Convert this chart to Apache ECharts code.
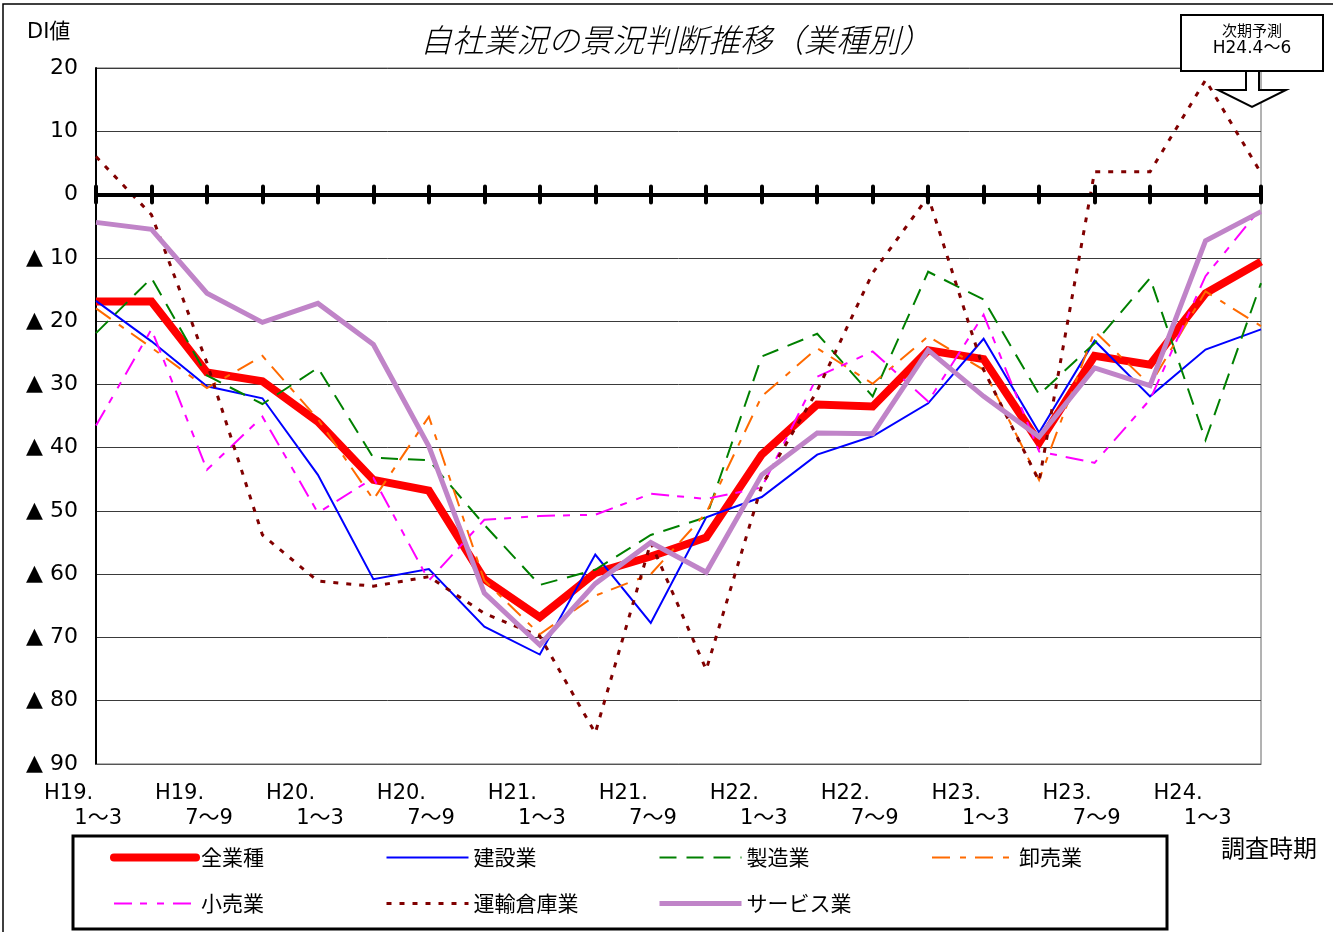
<!DOCTYPE html>
<html>
<head>
<meta charset="utf-8">
<script src="https://cdn.jsdelivr.net/npm/echarts@6/dist/echarts.min.js"></script>
<style>
html,body{margin:0;padding:0;background:#fff;}
#c{width:1333px;height:932px;}
</style>
</head>
<body>
<div id="c"></div>
<script>
const categories = ['H19.1～3','H19.4～6','H19.7～9','H19.10～12','H20.1～3','H20.4～6','H20.7～9','H20.10～12',
  'H21.1～3','H21.4～6','H21.7～9','H21.10～12','H22.1～3','H22.4～6','H22.7～9','H22.10～12',
  'H23.1～3','H23.4～6','H23.7～9','H23.10～12','H24.1～3','H24.4～6'];

const allIndustries = [-16.9,-16.9,-28.1,-29.5,-35.9,-45.1,-46.8,-60.8,-66.8,-59.8,-57.2,-54.2,-41.1,-33.2,-33.5,-24.6,-26.0,-39.2,-25.5,-26.9,-15.6,-10.6];
const construction  = [-16.8,-23.2,-30.3,-32.2,-44.3,-60.8,-59.2,-68.3,-72.7,-56.9,-67.7,-51.0,-47.8,-41.1,-38.2,-33.0,-22.8,-37.6,-23.1,-31.9,-24.5,-21.3];
const manufacturing = [-21.9,-13.2,-28.6,-33.1,-27.4,-41.6,-42.0,-52.2,-61.7,-59.3,-53.8,-51.0,-25.6,-22.0,-31.9,-12.2,-16.6,-31.6,-23.5,-13.2,-38.8,-14.0];
const wholesale     = [-18.0,-24.2,-30.6,-25.5,-35.5,-48.2,-35.1,-61.0,-69.5,-63.4,-60.0,-50.3,-31.9,-24.3,-29.9,-22.4,-27.7,-45.1,-21.6,-30.1,-15.3,-20.8];
const retail        = [-36.5,-21.3,-43.5,-35.1,-50.3,-44.8,-61.0,-51.4,-50.8,-50.6,-47.3,-48.1,-46.3,-28.8,-24.8,-32.7,-19.0,-40.6,-42.4,-32.4,-12.9,-2.1];
const transport     = [6.0,-3.2,-26.6,-53.8,-61.1,-61.9,-60.4,-66.2,-69.8,-85.1,-55.0,-75.1,-46.0,-31.0,-12.4,-0.3,-27.7,-45.3,3.6,3.6,18.1,3.4];
const services      = [-4.4,-5.5,-15.6,-20.2,-17.2,-23.7,-39.8,-63.0,-71.2,-61.5,-55.0,-59.7,-44.3,-37.7,-37.8,-24.6,-31.9,-38.3,-27.4,-30.2,-7.3,-2.7];

const yTicks = {min:-90, max:20, interval:10};

const FONT = '"Noto Sans CJK JP", "Noto Sans", sans-serif';
const NUMFONT = '"DejaVu Sans", "Noto Sans CJK JP", sans-serif';
const chart = echarts.init(document.getElementById('c'), null, {renderer:'canvas'});

function line(name, data, color, width, type, z){
  return {name, type:'line', data, symbol:'none', showSymbol:false, z: z,
    lineStyle:{color, width, type, join:'miter', cap:'butt'}, itemStyle:{color},
    emphasis:{disabled:true}, animation:false};
}

const legendBase = {orient:'vertical', top:847, padding:0, itemWidth:82, itemHeight:14, itemGap:25,
  itemStyle:{opacity:0}, lineStyle:{width:'inherit'},
  textStyle:{fontSize:21, lineHeight:20, color:'#000', fontFamily:FONT}, selectedMode:false};

const option = {
  animation:false,
  textStyle:{fontFamily:FONT},
  title:{text:'自社業況の景況判断推移（業種別）', left:671, top:19, textAlign:'center',
    textStyle:{fontSize:32, fontStyle:'italic', fontWeight:300, color:'#000', fontFamily:FONT}},
  grid:{left:96, right:72, top:68, bottom:168, show:true, borderColor:'#666', borderWidth:1},
  legend:[
    Object.assign({}, legendBase, {left:110, data:[{name:'全業種', lineStyle:{cap:'round'}},'小売業']}),
    Object.assign({}, legendBase, {left:385, data:['建設業','運輸倉庫業']}),
    Object.assign({}, legendBase, {left:657, data:['製造業','サービス業']}),
    Object.assign({}, legendBase, {left:931, data:['卸売業']})
  ],
  xAxis:[
    {type:'category', data:categories, boundaryGap:false, position:'bottom',
      axisLine:{show:true, onZero:false, lineStyle:{color:'#555', width:1}},
      axisTick:{show:false},
      axisLabel:{interval:1, margin:17, color:'#000',
        formatter:function(v){const p=v.split('.'); return '{a|'+p[0]+'.}\n{b|'+p[1]+'}';},
        rich:{
          a:{fontSize:21, fontFamily:NUMFONT, color:'#000', width:78, align:'left', padding:[0,26,0,0], lineHeight:25},
          b:{fontSize:21, fontFamily:NUMFONT, color:'#000', width:78, align:'right', padding:[0,26,0,0], lineHeight:25}
        }},
      splitLine:{show:false}},
    {type:'category', data:categories, boundaryGap:false, position:'bottom',
      axisLine:{show:true, onZero:true, onZeroAxisIndex:0, lineStyle:{color:'#000', width:4}},
      axisTick:{show:true, interval:0, length:8, lineStyle:{color:'#000', width:4, cap:'round'}},
      axisLabel:{show:false}, splitLine:{show:false}, z:20},
    {type:'category', data:categories, boundaryGap:false, position:'top',
      axisLine:{show:true, onZero:true, onZeroAxisIndex:1, lineStyle:{color:'#000', width:4}},
      axisTick:{show:true, interval:0, length:8, lineStyle:{color:'#000', width:4, cap:'round'}},
      axisLabel:{show:false}, splitLine:{show:false}, z:20}
  ],
  yAxis:[
    {type:'value', min:yTicks.min, max:yTicks.max, interval:yTicks.interval,
      axisLine:{show:true, lineStyle:{color:'#000', width:2}},
      axisTick:{show:false},
      axisLabel:{margin:18, fontSize:22, color:'#000', fontFamily:NUMFONT,
        formatter:function(v){ return v<0 ? '▲ '+(-v) : String(v); }},
      splitLine:{show:true, lineStyle:{color:'#3a3a3a', width:1}}},
    {type:'value', min:yTicks.min, max:yTicks.max, interval:yTicks.interval, show:false,
      splitLine:{show:false}}
  ],
  series:[
    line('全業種', allIndustries, '#FF0000', 8, 'solid', 3),
    line('建設業', construction, '#0000FF', 2, 'solid', 4),
    line('製造業', manufacturing, '#008000', 2, [17,10], 4),
    line('卸売業', wholesale, '#FF6A00', 2, [18,10,6,9], 4),
    line('小売業', retail, '#FF00FF', 2, [18,8,7,10,7,9], 4),
    line('運輸倉庫業', transport, '#800000', 3, [5,8], 4),
    line('サービス業', services, '#C084C8', 5, 'solid', 5)
  ],
  graphic:[
    {type:'rect', silent:true, z:-1, shape:{x:3, y:4, width:1345, height:945}, style:{fill:'none', stroke:'#000', lineWidth:1.5}},
    {type:'rect', silent:true, shape:{x:73, y:836, width:1094, height:93}, style:{fill:'none', stroke:'#000', lineWidth:3}},
    {type:'text', silent:true, left:27, top:22, style:{text:'DI値', fontSize:21, fill:'#000', fontFamily:NUMFONT}},
    {type:'text', silent:true, left:1221, top:836, style:{text:'調査時期', fontSize:24, fill:'#000', fontFamily:FONT}},
    {type:'polygon', silent:true, z:30, shape:{points:[[1246,70],[1246,90],[1218,90],[1252,107],[1286,90],[1259,90],[1259,70]]},
      style:{fill:'#fff', stroke:'#000', lineWidth:2}},
    {type:'rect', silent:true, z:31, shape:{x:1181, y:15, width:142, height:56}, style:{fill:'#fff', stroke:'#000', lineWidth:2}},
    {type:'text', silent:true, z:32, x:1252, y:30, style:{text:'次期予測', fontSize:15, fill:'#000', fontFamily:FONT, align:'center', verticalAlign:'middle'}},
    {type:'text', silent:true, z:32, x:1252, y:49, style:{text:'H24.4～6', fontSize:17, fill:'#000', fontFamily:NUMFONT, align:'center', verticalAlign:'middle'}}
  ]
};
chart.setOption(option);
</script>
</body>
</html>
